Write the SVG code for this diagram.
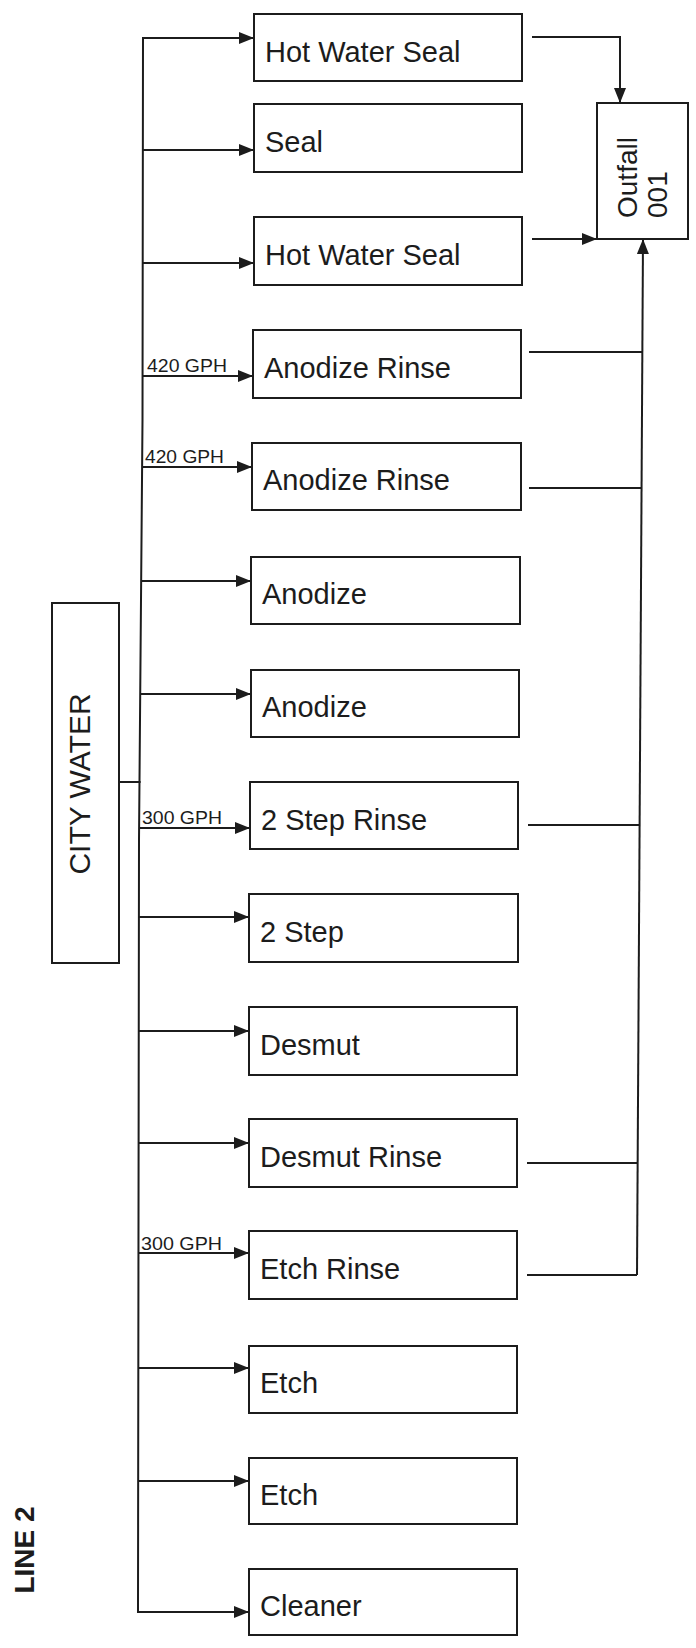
<svg xmlns="http://www.w3.org/2000/svg" width="696" height="1648" viewBox="0 0 696 1648">
<style>
  .box { fill: #ffffff; stroke: #1c1c1c; stroke-width: 2; }
  .lbl { font-family: "Liberation Sans", Arial, sans-serif; font-size: 29px; fill: #1c1c1c; }
  .gph { font-family: "Liberation Sans", Arial, sans-serif; font-size: 18px; fill: #1c1c1c; }
  .title { font-family: "Liberation Sans", Arial, sans-serif; font-size: 28px; font-weight: bold; fill: #1c1c1c; }
  .ln { fill: none; stroke: #1c1c1c; stroke-width: 2; }
  .arr { fill: none; stroke: #1c1c1c; stroke-width: 2; marker-end: url(#ah); }
</style>
<defs>
  <marker id="ah" markerUnits="userSpaceOnUse" markerWidth="15" markerHeight="12" refX="15" refY="6" orient="auto">
    <path d="M0,0 L15,6 L0,12 z" fill="#1c1c1c"/>
  </marker>
</defs>
<rect width="696" height="1648" fill="#ffffff"/>

<g id="connectors">
  <!-- supply bus -->
  <path class="ln" d="M143,37 L142.5,420 L139,840 L138,1613"/>
  <!-- city water to bus -->
  <path class="ln" d="M119,782 L140.6,782"/>
  <!-- branches -->
  <path class="arr" d="M142.9,38 L254,38"/>
  <path class="arr" d="M142.9,150 L254,150"/>
  <path class="arr" d="M142.8,263 L254,263"/>
  <path class="arr" d="M142.6,376 L253,376"/>
  <path class="arr" d="M142,467 L252,467"/>
  <path class="arr" d="M141.2,581 L251,581"/>
  <path class="arr" d="M140.3,694 L251,694"/>
  <path class="arr" d="M139.3,828 L250,828"/>
  <path class="arr" d="M138.9,917 L249,917"/>
  <path class="arr" d="M138.8,1031 L249,1031"/>
  <path class="arr" d="M138.6,1143 L249,1143"/>
  <path class="arr" d="M138.5,1253 L249,1253"/>
  <path class="arr" d="M138.3,1368 L249,1368"/>
  <path class="arr" d="M138.2,1481 L249,1481"/>
  <path class="arr" d="M138,1612 L249,1612"/>
  <!-- outflows to outfall -->
  <path class="arr" d="M532,37 L620,37 L620,103"/>
  <path class="arr" d="M532,239 L597,239"/>
  <path class="ln" d="M529,352 L642.3,352"/>
  <path class="ln" d="M529,488 L641.6,488"/>
  <path class="ln" d="M528,825 L639.6,825"/>
  <path class="ln" d="M527,1163 L637.6,1163"/>
  <path class="ln" d="M527,1275 L637,1275"/>
  <path class="arr" d="M637,1275 L643,239"/>
</g>

<g id="city-water">
  <rect class="box" x="52" y="603" width="67" height="360"/>
  <text class="lbl" text-anchor="middle" transform="translate(90,784) rotate(-90)" style="font-size:30px">CITY WATER</text>
</g>

<g id="outfall-001">
  <rect class="box" x="597" y="103" width="91" height="136"/>
  <text class="lbl" transform="translate(637,218) rotate(-90)" style="font-size:28px">Outfall</text>
  <text class="lbl" transform="translate(667,218) rotate(-90)" style="font-size:28px">001</text>
</g>

<g id="line-2">
  <text class="title" text-anchor="middle" transform="translate(34,1550) rotate(-90)">LINE 2</text>
</g>

<g id="n1-hot-water-seal">
  <rect class="box" x="254" y="14" width="268" height="67"/>
  <text class="lbl" x="265" y="62">Hot Water Seal</text>
</g>
<g id="n2-seal">
  <rect class="box" x="254" y="104" width="268" height="68"/>
  <text class="lbl" x="265" y="152">Seal</text>
</g>
<g id="n3-hot-water-seal">
  <rect class="box" x="254" y="217" width="268" height="68"/>
  <text class="lbl" x="265" y="265">Hot Water Seal</text>
</g>
<g id="n4-anodize-rinse">
  <rect class="box" x="253" y="330" width="268" height="68"/>
  <text class="lbl" x="264" y="378">Anodize Rinse</text>
  <text class="gph" x="147" y="372" textLength="80" lengthAdjust="spacingAndGlyphs">420 GPH</text>
</g>
<g id="n5-anodize-rinse">
  <rect class="box" x="252" y="443" width="269" height="67"/>
  <text class="lbl" x="263" y="490">Anodize Rinse</text>
  <text class="gph" x="145" y="463" textLength="79" lengthAdjust="spacingAndGlyphs">420 GPH</text>
</g>
<g id="n6-anodize">
  <rect class="box" x="251" y="557" width="269" height="67"/>
  <text class="lbl" x="262" y="604">Anodize</text>
</g>
<g id="n7-anodize">
  <rect class="box" x="251" y="670" width="268" height="67"/>
  <text class="lbl" x="262" y="717">Anodize</text>
</g>
<g id="n8-2-step-rinse">
  <rect class="box" x="250" y="782" width="268" height="67"/>
  <text class="lbl" x="261" y="830">2 Step Rinse</text>
  <text class="gph" x="142" y="824" textLength="80" lengthAdjust="spacingAndGlyphs">300 GPH</text>
</g>
<g id="n9-2-step">
  <rect class="box" x="249" y="894" width="269" height="68"/>
  <text class="lbl" x="260" y="942">2 Step</text>
</g>
<g id="n10-desmut">
  <rect class="box" x="249" y="1007" width="268" height="68"/>
  <text class="lbl" x="260" y="1055">Desmut</text>
</g>
<g id="n11-desmut-rinse">
  <rect class="box" x="249" y="1119" width="268" height="68"/>
  <text class="lbl" x="260" y="1167">Desmut Rinse</text>
</g>
<g id="n12-etch-rinse">
  <rect class="box" x="249" y="1231" width="268" height="68"/>
  <text class="lbl" x="260" y="1279">Etch Rinse</text>
  <text class="gph" x="141" y="1250" textLength="81" lengthAdjust="spacingAndGlyphs">300 GPH</text>
</g>
<g id="n13-etch">
  <rect class="box" x="249" y="1346" width="268" height="67"/>
  <text class="lbl" x="260" y="1393">Etch</text>
</g>
<g id="n14-etch">
  <rect class="box" x="249" y="1458" width="268" height="66"/>
  <text class="lbl" x="260" y="1505">Etch</text>
</g>
<g id="n15-cleaner">
  <rect class="box" x="249" y="1569" width="268" height="66"/>
  <text class="lbl" x="260" y="1616">Cleaner</text>
</g>
</svg>
